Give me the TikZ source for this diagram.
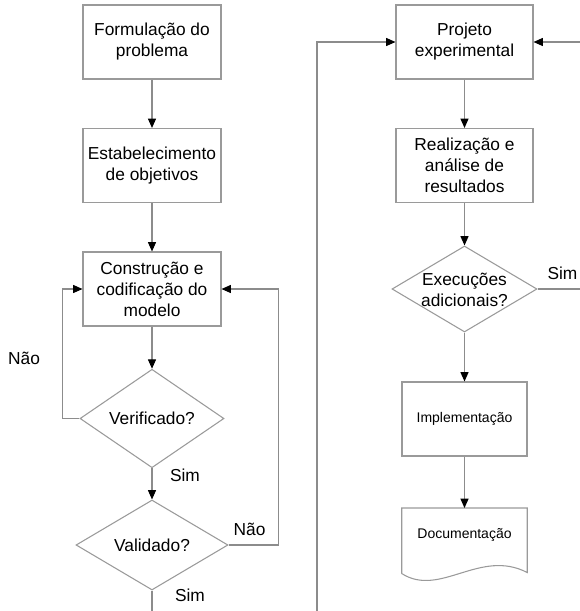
\documentclass[tikz,border=0pt]{standalone}
\usepackage{fontspec}
\setmainfont{Liberation Sans}
\usetikzlibrary{shapes.geometric,arrows.meta}
\definecolor{linegray}{HTML}{8C8C8C}
\definecolor{boxgray}{HTML}{9A9A9A}
\begin{document}
\begin{tikzpicture}[x=0.75pt,y=-0.75pt,
  stepbox/.style={draw=boxgray,line width=0.8pt,rectangle,minimum width=138*0.75pt,minimum height=74*0.75pt,inner sep=0pt,align=center,font=\fontsize{13}{15.75}\selectfont},
  smallbox/.style={draw=boxgray,line width=0.8pt,rectangle,minimum width=125*0.75pt,minimum height=74*0.75pt,inner sep=0pt,align=center,font=\fontsize{10.5}{13}\selectfont},
  decision/.style={draw=boxgray,line width=0.8pt,diamond,inner sep=0pt,align=center,font=\fontsize{13}{15.75}\selectfont},
  conn/.style={draw=linegray,line width=0.8pt,-{Triangle[length=7pt,width=6pt,color=black]}},
  lbl/.style={font=\fontsize{13}{15.75}\selectfont,inner sep=0pt,align=center}]
\useasboundingbox (0,0) rectangle (580,611);
\clip (0,0) rectangle (580,611);
% left column
\node[stepbox] (form) at (152,42) {Formulação do\\problema};
\node[stepbox] (estab) at (152,165.5) {Estabelecimento\\de objetivos};
\node[stepbox] (cons) at (152,289) {Construção e\\codificação do\\modelo};
\node[decision,minimum width=144*0.75pt,minimum height=84*0.75pt] (ver) at (152,418.5) {Verificado?};
\node[decision,minimum width=152*0.75pt,minimum height=90*0.75pt] (val) at (152,545) {Validado?};
% right column
\node[stepbox,minimum width=137*0.75pt] (proj) at (464.5,42) {Projeto\\experimental};
\node[stepbox,minimum width=137*0.75pt] (real) at (464.5,165.5) {Realização e\\análise de\\resultados};
\node[decision,minimum width=145*0.75pt,minimum height=86*0.75pt] (exe) at (464.5,289) {};
\node[lbl] (exetext) at (464.5,289.5) {Execuções\\adicionais?};
\node[smallbox] (impl) at (464.5,419) {Implementação};
\node[rectangle,minimum width=125*0.75pt,minimum height=65*0.75pt,inner sep=0pt,anchor=north] (doc) at (464.5,508) {};
\node[font=\fontsize{10.5}{13}\selectfont,inner sep=0pt] (doctext) at (464.5,535) {Documentação};
\draw[draw=boxgray,line width=0.8pt] (doc.south west) -- (doc.north west) -- (doc.north east) -- ([yshift=1*0.75pt]doc.south east)
  .. controls (480,548) and (440,598) .. (doc.south west);
% labels
\node[lbl] (nao1) at (24,358) {Não};
\node[lbl] (nao2) at (249.5,529) {Não};
\node[lbl] (sim1) at (185,475) {Sim};
\node[lbl] (sim2) at (190,595) {Sim};
\node[lbl] (sim3) at (562.5,273) {Sim};
% coordinates for off-picture turns
\coordinate (lb) at (317,650);
\coordinate (rb) at (610,42);
% connectors
\draw[conn] (form) -- (estab);
\draw[conn] (estab) -- (cons);
\draw[conn] (cons) -- (ver);
\draw[conn] (ver) -- (val);
\draw[conn] (ver.west) -- ++(-17,0) |- (cons.west);
\draw[conn] (val.east) -- ++(50,0) |- (cons.east);
\draw[conn] (val.south) |- (lb) |- (proj.west);
\draw[conn] (proj) -- (real);
\draw[conn] (real) -- (exe);
\draw[conn] (exe) -- (impl);
\draw[conn] (impl) -- (doc);
\draw[conn] (exe.east) -| (rb) -- (proj.east);
\end{tikzpicture}
\end{document}
